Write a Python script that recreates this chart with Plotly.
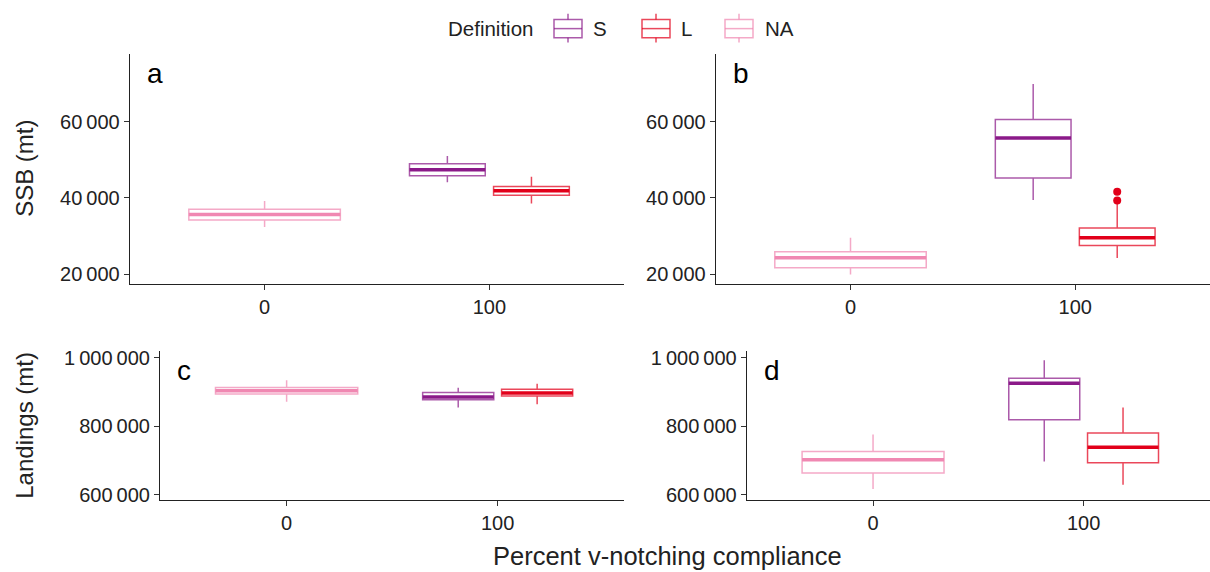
import plotly.graph_objects as go

# ---------------- data ----------------
categories = [0, 100]
category_labels = ["0", "100"]
groups = ["S", "L", "NA"]
group_category = [100, 100, 0]
group_colors = ["#8B1A89", "#E2001A", "#F088B2"]

# panel a: SSB
a_lower = [44140, 38520, 32390]
a_q1 = [45870, 40700, 34200]
a_median = [47420, 41890, 35680]
a_q3 = [48980, 43030, 37050]
a_upper = [51050, 45610, 39220]
a_outliers = [[], [], []]

# panel b: SSB
b_lower = [39480, 24220, 19900]
b_q1 = [45250, 27480, 21630]
b_median = [55780, 29550, 24295]
b_q3 = [60600, 32130, 25850]
b_upper = [69940, 38450, 29570]
b_outliers = [[], [41630, 39300], []]

# panel c: Landings
c_lower = [854100, 863600, 871400]
c_q1 = [877100, 887800, 893500]
c_median = [884900, 896400, 903000]
c_q3 = [898100, 907900, 912500]
c_upper = [911700, 924000, 933800]
c_outliers = [[], [], []]

# panel d: Landings
d_lower = [696700, 628800, 616100]
d_q1 = [818700, 693000, 663300]
d_median = [925200, 738100, 701600]
d_q3 = [939600, 780100, 725500]
d_upper = [992200, 854100, 775500]
d_outliers = [[], [], []]

ssb_ticks = [20000, 40000, 60000]
landings_ticks = [600000, 800000, 1000000]
panel_letters = ["a", "b", "c", "d"]

# ---------------- layout constants ----------------
W, H = 1210, 572
FONT = "Liberation Sans, Arial, Helvetica, sans-serif"
FULL_W = 67.4
HALF_W = 33.7
OFFSET = 18.7


def rgba(hex_color, a):
    h = hex_color.lstrip("#")
    r, g, b = int(h[0:2], 16), int(h[2:4], 16), int(h[4:6], 16)
    return f"rgba({r},{g},{b},{a})"


def fmt(v):
    return f"{v:,}".replace(",", "\u2009")


def dodge(i):
    cat = group_category[i]
    members = [j for j in range(len(groups)) if group_category[j] == cat]
    n = len(members)
    if n == 1:
        return cat, FULL_W
    k = members.index(i)
    return cat + (k - (n - 1) / 2) * 2 * OFFSET, HALF_W


fig = go.Figure()

panels = [
    ("x", "y", a_lower, a_q1, a_median, a_q3, a_upper, a_outliers),
    ("x2", "y2", b_lower, b_q1, b_median, b_q3, b_upper, b_outliers),
    ("x3", "y3", c_lower, c_q1, c_median, c_q3, c_upper, c_outliers),
    ("x4", "y4", d_lower, d_q1, d_median, d_q3, d_upper, d_outliers),
]

for xa, ya, lo, q1, med, q3, up, outl in panels:
    for i, g in enumerate(groups):
        center, w = dodge(i)
        col = group_colors[i]
        fig.add_trace(go.Box(
            x=[center], q1=[q1[i]], median=[med[i]], q3=[q3[i]],
            lowerfence=[lo[i]], upperfence=[up[i]],
            width=w, whiskerwidth=0, boxpoints=False,
            line=dict(color=rgba(col, 0.72), width=1.5),
            fillcolor="white", xaxis=xa, yaxis=ya, name=g,
            hoverinfo="skip",
        ))
        fig.add_trace(go.Scatter(
            x=[center - w / 2, center + w / 2], y=[med[i], med[i]],
            mode="lines", line=dict(color=col, width=3.5),
            xaxis=xa, yaxis=ya, hoverinfo="skip",
        ))
        if outl[i]:
            fig.add_trace(go.Scatter(
                x=[center] * len(outl[i]), y=outl[i], mode="markers",
                marker=dict(color=col, size=8),
                xaxis=xa, yaxis=ya, hoverinfo="skip",
            ))

axis_common = dict(
    showline=True, linecolor="#222222", linewidth=1.1,
    ticks="outside", ticklen=5, tickwidth=1, tickcolor="#333333",
    showgrid=False, zeroline=False,
    tickfont=dict(family=FONT, size=20, color="#222222"),
)

x_common = dict(axis_common, range=[-60, 160], tickvals=categories,
                ticktext=category_labels)

x_doms = {
    "a": [129.7 / W, 624.3 / W],
    "b": [715.7 / W, 1.0],
    "c": [160.0 / W, 624.3 / W],
    "d": [746.7 / W, 1.0],
}
y_top = [1 - 284.0 / H, 1 - 51.0 / H]
y_bot = [1 - 504.3 / H, 1 - 352.7 / H]

ssb_range = [17500, 77800]
land_range = [583000, 1019000]

fig.update_layout(
    width=W, height=H, margin=dict(l=0, r=0, t=0, b=0),
    paper_bgcolor="white", plot_bgcolor="white", showlegend=False,
    boxmode="overlay",
    xaxis=dict(x_common, domain=x_doms["a"], anchor="y"),
    xaxis2=dict(x_common, domain=x_doms["b"], anchor="y2"),
    xaxis3=dict(x_common, domain=x_doms["c"], anchor="y3"),
    xaxis4=dict(x_common, domain=x_doms["d"], anchor="y4"),
    yaxis=dict(axis_common, domain=y_top, anchor="x", range=ssb_range,
               tickvals=ssb_ticks, ticktext=[fmt(v) for v in ssb_ticks]),
    yaxis2=dict(axis_common, domain=y_top, anchor="x2", range=ssb_range,
                tickvals=ssb_ticks, ticktext=[fmt(v) for v in ssb_ticks]),
    yaxis3=dict(axis_common, domain=y_bot, anchor="x3", range=land_range,
                tickvals=landings_ticks, ticktext=[fmt(v) for v in landings_ticks]),
    yaxis4=dict(axis_common, domain=y_bot, anchor="x4", range=land_range,
                tickvals=landings_ticks, ticktext=[fmt(v) for v in landings_ticks]),
)

# panel letters
for k, (xa, ya) in enumerate([("x", "y"), ("x2", "y2"), ("x3", "y3"), ("x4", "y4")]):
    fig.add_annotation(
        text=panel_letters[k], xref=f"{xa} domain", yref=f"{ya} domain",
        x=0, y=1, xshift=15, yshift=-19, xanchor="left", yanchor="middle",
        showarrow=False, font=dict(family=FONT, size=28, color="black"),
    )

# axis titles
fig.add_annotation(text="SSB (mt)", xref="paper", yref="paper",
                   x=25 / W, y=1 - 167.5 / H, textangle=-90, showarrow=False,
                   xanchor="center", yanchor="middle",
                   font=dict(family=FONT, size=24, color="#222222"))
fig.add_annotation(text="Landings (mt)", xref="paper", yref="paper",
                   x=25 / W, y=1 - 428.5 / H, textangle=-90, showarrow=False,
                   xanchor="center", yanchor="middle",
                   font=dict(family=FONT, size=24, color="#222222"))
fig.add_annotation(text="Percent v-notching compliance", xref="paper", yref="paper",
                   x=667 / W, y=1 - 561 / H, showarrow=False,
                   xanchor="center", yanchor="middle",
                   font=dict(family=FONT, size=25.5, color="#222222"))

# legend (ggplot-style keys drawn as shapes)
LEG_Y = 24.5
fig.add_annotation(text="Definition", xref="paper", yref="paper",
                   x=446 / W, y=1 - LEG_Y / H, showarrow=False,
                   xanchor="left", yanchor="middle",
                   font=dict(family=FONT, size=20.5, color="#222222"))
key_left = [554, 642, 725]
label_left = [591, 679, 763]
for i, g in enumerate(groups):
    col = rgba(group_colors[i], 0.72)
    x0, x1 = key_left[i], key_left[i] + 28
    xm = (x0 + x1) / 2
    y0, y1, ym = 15.7, 34.3, 25.0
    fig.add_shape(type="rect", xref="paper", yref="paper",
                  x0=x0 / W, x1=x1 / W, y0=1 - y1 / H, y1=1 - y0 / H,
                  line=dict(color=col, width=1.5), fillcolor="white")
    fig.add_shape(type="line", xref="paper", yref="paper",
                  x0=x0 / W, x1=x1 / W, y0=1 - ym / H, y1=1 - ym / H,
                  line=dict(color=col, width=1.5))
    fig.add_shape(type="line", xref="paper", yref="paper",
                  x0=xm / W, x1=xm / W, y0=1 - y0 / H, y1=1 - 10 / H,
                  line=dict(color=col, width=1.5))
    fig.add_shape(type="line", xref="paper", yref="paper",
                  x0=xm / W, x1=xm / W, y0=1 - y1 / H, y1=1 - 39 / H,
                  line=dict(color=col, width=1.5))
    fig.add_annotation(text=g, xref="paper", yref="paper",
                       x=label_left[i] / W, y=1 - LEG_Y / H, showarrow=False,
                       xanchor="left", yanchor="middle",
                       font=dict(family=FONT, size=20.5, color="#222222"))

fig.write_html("out.html")
